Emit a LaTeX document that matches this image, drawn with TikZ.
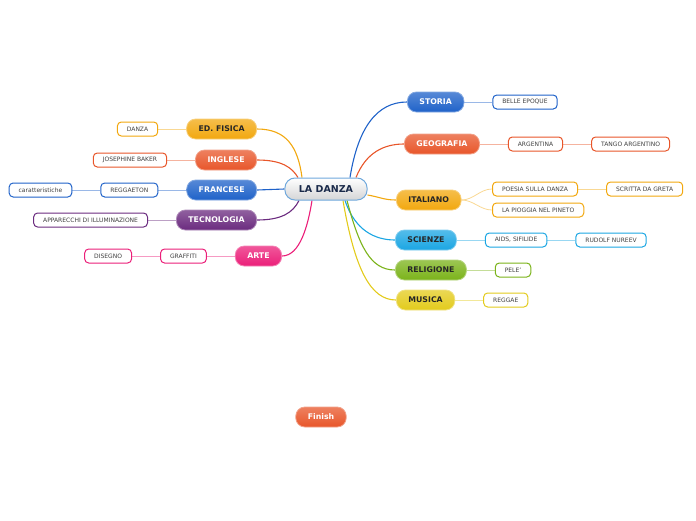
\documentclass[tikz,border=0pt]{standalone}
\usepackage{fontspec}
\setmainfont{DejaVu Sans}
\usetikzlibrary{positioning, backgrounds}

\definecolor{cblue}{HTML}{1F62C9}
\definecolor{corange}{HTML}{E8562A}
\definecolor{camber}{HTML}{F2A80F}
\definecolor{ccyan}{HTML}{1BA6E3}
\definecolor{cgreen}{HTML}{7BB31A}
\definecolor{cyellow}{HTML}{E3CB1C}
\definecolor{cpurple}{HTML}{6B2B7F}
\definecolor{cpink}{HTML}{EB1F79}
\definecolor{cnavy}{HTML}{1A2A4A}
\definecolor{cframe}{HTML}{6FA8DC}

\tikzset{
  hub/.style={draw=cframe, line width=1pt, top color=white, bottom color=cnavy!15!gray!30,
    rounded corners=10pt, minimum height=22pt, inner xsep=14pt, inner ysep=0pt,
    font=\fontsize{9.5}{10}\selectfont\bfseries, text=cnavy},
  topic/.style={draw=#1!55!white, line width=0.8pt, top color=#1!75!white, bottom color=#1,
    rounded corners=9pt, minimum height=20pt, inner xsep=12pt, inner ysep=0pt,
    font=\fontsize{7.8}{8}\selectfont\bfseries, text=white},
  darktopic/.style={topic=#1, text=black!85},
  leaf/.style={draw=#1, line width=1pt, fill=white, rounded corners=4pt,
    minimum height=14pt, inner xsep=9.5pt, inner ysep=0pt,
    font=\fontsize{6}{6}\selectfont, text=black!75},
  branch/.style={draw=#1, line width=1.1pt},
  twig/.style={draw=#1!45!white, line width=0.8pt},
}

\begin{document}
\begin{tikzpicture}[x=1pt, y=-1pt, node distance=28pt]
        \useasboundingbox (0,0) rectangle (696,520);

        % Centre
        \node (danza) [hub] at (326,189) {LA DANZA};

        % Topics, right side
        \node (storia) [topic=cblue, anchor=west] at (407,102) {STORIA};
        \node (geografia) [topic=corange, anchor=west] at (404,144) {GEOGRAFIA};
        \node (italiano) [darktopic=camber, anchor=west] at (396,200) {ITALIANO};
        \node (scienze) [darktopic=ccyan, anchor=west] at (395,240) {SCIENZE};
        \node (religione) [darktopic=cgreen, anchor=west] at (395,270) {RELIGIONE};
        \node (musica) [darktopic=cyellow, anchor=west] at (396,300) {MUSICA};

        % Topics, left side
        \node (edfisica) [darktopic=camber, anchor=east] at (257,129) {ED. FISICA};
        \node (inglese) [topic=corange, anchor=east] at (257,160) {INGLESE};
        \node (francese) [topic=cblue, anchor=east] at (257,190) {FRANCESE};
        \node (tecnologia) [topic=cpurple, anchor=east] at (257,220) {TECNOLOGIA};
        \node (arte) [topic=cpink, anchor=east] at (282,256) {ARTE};

        \node (finish) [topic=corange] at (321,417) {Finish};

        % Leaves
        \node (belle) [leaf=cblue, right=of storia] {BELLE EPOQUE};
        \node (argentina) [leaf=corange, right=of geografia] {ARGENTINA};
        \node (tango) [leaf=corange, right=of argentina] {TANGO ARGENTINO};
        \node (poesia) [leaf=camber, anchor=west] at (492,189) {POESIA SULLA DANZA};
        \node (scritta) [leaf=camber, right=of poesia] {SCRITTA DA GRETA};
        \node (pioggia) [leaf=camber, anchor=west] at (492,210) {LA PIOGGIA NEL PINETO};
        \node (aids) [leaf=ccyan, right=of scienze] {AIDS, SIFILIDE};
        \node (rudolf) [leaf=ccyan, right=of aids] {RUDOLF NUREEV};
        \node (pele) [leaf=cgreen, right=of religione] {PELE'};
        \node (reggae) [leaf=cyellow, right=of musica] {REGGAE};
        \node (danzaleaf) [leaf=camber, left=of edfisica] {DANZA};
        \node (baker) [leaf=corange, left=of inglese] {JOSEPHINE BAKER};
        \node (reggaeton) [leaf=cblue, left=of francese] {REGGAETON};
        \node (caratt) [leaf=cblue, left=of reggaeton] {caratteristiche};
        \node (luci) [leaf=cpurple, left=of tecnologia] {APPARECCHI DI ILLUMINAZIONE};
        \node (graffiti) [leaf=cpink, left=of arte] {GRAFFITI};
        \node (disegno) [leaf=cpink, left=of graffiti] {DISEGNO};

        \begin{scope}[on background layer]
        % Branches from the centre
        \draw[branch=cblue] ([xshift=24pt]danza.north) .. controls +(8,-50) and +(-30,0) .. (storia.west);
        \draw[branch=corange] ([xshift=30pt]danza.north) .. controls +(10,-25) and +(-20,0) .. (geografia.west);
        \draw[branch=camber] ([yshift=-6pt]danza.east) .. controls +(12,2) and +(-12,0) .. (italiano.west);
        \draw[branch=ccyan] ([xshift=19pt]danza.south) .. controls +(10,30) and +(-20,0) .. (scienze.west);
        \draw[branch=cgreen] ([xshift=21pt]danza.south) .. controls +(12,45) and +(-25,0) .. (religione.west);
        \draw[branch=cyellow] ([xshift=17pt]danza.south) .. controls +(12,70) and +(-25,0) .. (musica.west);
        \draw[branch=camber] (edfisica.east) .. controls +(30,0) and +(-4,-30) .. ([xshift=-24pt]danza.north);
        \draw[branch=corange] (inglese.east) .. controls +(25,0) and +(-6,-10) .. ([xshift=-28pt]danza.north);
        \draw[branch=cblue] (francese.east) -- (danza.west);
        \draw[branch=cpurple] (tecnologia.east) .. controls +(25,0) and +(-6,12) .. ([xshift=-27pt]danza.south);
        \draw[branch=cpink] (arte.east) .. controls +(18,0) and +(-4,25) .. ([xshift=-14pt]danza.south);

        % Twigs to the leaves
        \draw[twig=cblue] (storia.east) -- (belle.west);
        \draw[twig=corange] (geografia.east) -- (argentina.west);
        \draw[twig=corange] (argentina.east) -- (tango.west);
        \draw[twig=camber] (italiano.east) .. controls +(12,0) and +(-12,0) .. (poesia.west);
        \draw[twig=camber] (italiano.east) .. controls +(12,0) and +(-12,0) .. (pioggia.west);
        \draw[twig=camber] (poesia.east) -- (scritta.west);
        \draw[twig=ccyan] (scienze.east) -- (aids.west);
        \draw[twig=ccyan] (aids.east) -- (rudolf.west);
        \draw[twig=cgreen] (religione.east) -- (pele.west);
        \draw[twig=cyellow] (musica.east) -- (reggae.west);
        \draw[twig=camber] (danzaleaf.east) -- (edfisica.west);
        \draw[twig=corange] (baker.east) -- (inglese.west);
        \draw[twig=cblue] (reggaeton.east) -- (francese.west);
        \draw[twig=cblue] (caratt.east) -- (reggaeton.west);
        \draw[twig=cpurple] (luci.east) -- (tecnologia.west);
        \draw[twig=cpink] (graffiti.east) -- (arte.west);
        \draw[twig=cpink] (disegno.east) -- (graffiti.west);
        \end{scope}

    \end{tikzpicture}
\end{document}
